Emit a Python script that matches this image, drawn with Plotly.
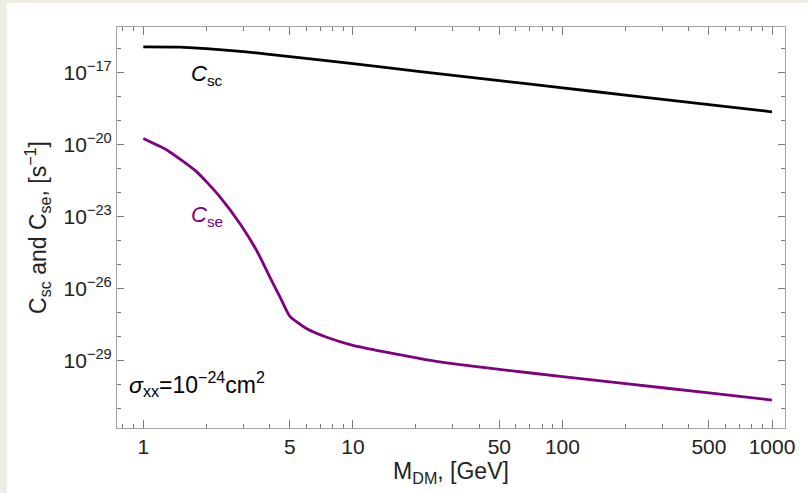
import plotly.graph_objects as go

# Dark-matter mass grid and capture / evaporation rates [s^-1]
mass_sc = [1, 1.5, 2, 3, 5, 10, 20, 50, 100, 200, 500, 1000]
rate_sc = [1.20e-16, 1.17e-16, 1.0e-16, 7.6e-17, 4.7e-17, 2.4e-17,
           1.17e-17, 4.7e-18, 2.34e-18, 1.17e-18, 4.7e-19, 2.34e-19]

mass_se = [1, 1.3, 1.8, 2.3, 2.9, 3.5, 4, 4.5, 5, 6, 7.5, 10, 14, 25,
           50, 100, 200, 500, 1000]
rate_se = [1.8e-20, 5.9e-21, 7.4e-22, 7.4e-23, 5.0e-24, 3.5e-25, 3.3e-26,
           4.4e-27, 7.2e-28, 2.2e-28, 9.5e-29, 4.4e-29, 2.4e-29, 9.5e-30,
           4.4e-30, 2.2e-30, 1.12e-30, 4.6e-31, 2.3e-31]

# Axis ticks
x_major = [1, 5, 10, 50, 100, 500, 1000]
x_major_text = ["1", "5", "10", "50", "100", "500", "1000"]
x_minor = [0.8, 0.9, 2, 3, 4, 6, 7, 8, 9, 20, 30, 40, 60, 70, 80, 90,
           200, 300, 400, 600, 700, 800, 900]
y_major_exp = [-17, -20, -23, -26, -29]
y_minor_exp = [-16, -18, -19, -21, -22, -24, -25, -27, -28, -30, -31]

FONT = "Liberation Sans, Arial, sans-serif"
AXIS_GRAY = "#a3a3a3"
TICK_GRAY = "#7a7a7a"
PURPLE = "#800080"
TEXT = "#222222"

fig = go.Figure()
fig.add_trace(go.Scatter(x=mass_sc, y=rate_sc, mode="lines",
                         line=dict(color="black", width=2.8,
                                   shape="spline", smoothing=0.6),
                         hoverinfo="skip"))
fig.add_trace(go.Scatter(x=mass_se, y=rate_se, mode="lines",
                         line=dict(color=PURPLE, width=2.8,
                                   shape="spline", smoothing=0.5),
                         hoverinfo="skip"))

# white page panel over the beige border
fig.add_shape(type="rect", xref="paper", yref="paper",
              x0=-0.165, x1=1.05, y0=-0.2, y1=1.06,
              fillcolor="white", line=dict(width=0), layer="below")

fig.add_annotation(x=0.304, y=-17.1, xref="x", yref="y",
                   text="<i>C</i><sub>sc</sub>", showarrow=False,
                   font=dict(family=FONT, size=22, color="black"))
fig.add_annotation(x=0.304, y=-22.97, xref="x", yref="y",
                   text="<i>C</i><sub>se</sub>", showarrow=False,
                   font=dict(family=FONT, size=22, color=PURPLE))
fig.add_annotation(x=-0.078, y=-29.97, xref="x", yref="y", xanchor="left",
                   text="<i>σ</i><sub>xx</sub>=10<sup>−24</sup>cm<sup>2</sup>",
                   showarrow=False,
                   font=dict(family=FONT, size=23, color="black"))

fig.update_layout(
    width=808, height=493,
    margin=dict(l=117, r=23, t=27, b=65),
    paper_bgcolor="#eeece3",
    plot_bgcolor="white",
    showlegend=False,
    font=dict(family=FONT, size=21, color=TEXT),
)

fig.update_xaxes(
    type="log", range=[-0.1255, 3.062],
    tickmode="array", tickvals=x_major, ticktext=x_major_text,
    ticks="inside", ticklen=8, tickwidth=1, tickcolor=TICK_GRAY,
    minor=dict(tickmode="array", tickvals=x_minor, ticks="inside",
               ticklen=4, tickwidth=1, tickcolor=TICK_GRAY, showgrid=False),
    showline=True, linecolor=AXIS_GRAY, linewidth=1, mirror="allticks",
    showgrid=False, zeroline=False,
    tickfont=dict(size=21, color=TEXT),
    title=dict(text="M<sub>DM</sub>, [GeV]", font=dict(size=23, color=TEXT),
               standoff=4),
)

fig.update_yaxes(
    type="log", range=[-31.8, -15.096],
    tickmode="array", tickvals=[10.0 ** e for e in y_major_exp],
    ticktext=[f"10<sup>−{-e}</sup>" for e in y_major_exp],
    ticks="inside", ticklen=7, tickwidth=1, tickcolor=TICK_GRAY,
    minor=dict(tickmode="array", tickvals=[10.0 ** e for e in y_minor_exp],
               ticks="inside", ticklen=4, tickwidth=1, tickcolor=TICK_GRAY,
               showgrid=False),
    showline=True, linecolor=AXIS_GRAY, linewidth=1, mirror="allticks",
    showgrid=False, zeroline=False,
    tickfont=dict(size=21, color=TEXT),
    title=dict(text="C<sub>sc</sub> and C<sub>se</sub>, [s<sup>−1</sup>]",
               font=dict(size=23, color=TEXT), standoff=10),
)

fig.write_html("out.html")
